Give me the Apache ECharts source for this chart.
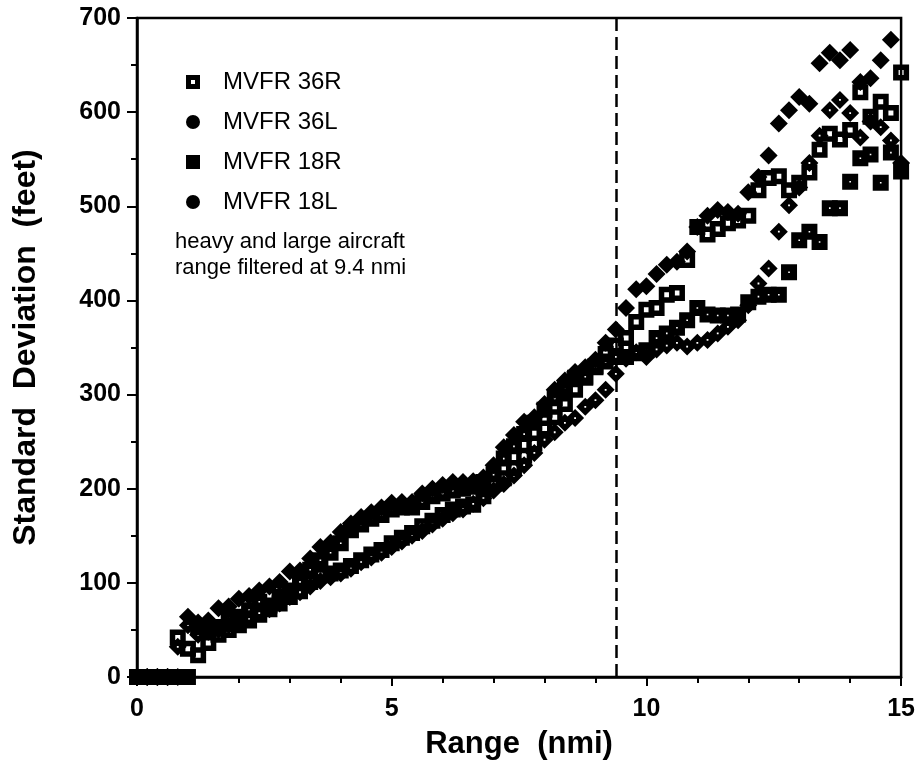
<!DOCTYPE html>
<html>
<head>
<meta charset="utf-8">
<script src="https://cdn.jsdelivr.net/npm/echarts@6/dist/echarts.min.js"></script>
<style>
html,body{margin:0;padding:0;background:#fff;}
#chart{width:918px;height:768px;}
</style>
</head>
<body>
<div id="chart"></div>
<script>
// Range bins (nmi)
var rangeNmi = [0,0.2,0.4,0.6,0.8,1.0,1.2,1.4,1.6,1.8,2.0,2.2,2.4,2.6,2.8,3.0,3.2,3.4,3.6,3.8,
  4.0,4.2,4.4,4.6,4.8,5.0,5.2,5.4,5.6,5.8,6.0,6.2,6.4,6.6,6.8,7.0,7.2,7.4,7.6,7.8,
  8.0,8.2,8.4,8.6,8.8,9.0,9.2,9.4,9.6,9.8,10.0,10.2,10.4,10.6,10.8,11.0,11.2,11.4,11.6,11.8,
  12.0,12.2,12.4,12.6,12.8,13.0,13.2,13.4,13.6,13.8,14.0,14.2,14.4,14.6,14.8,15.0];

// Standard deviation (feet)
var mvfr36R = [0,0,0,0,42,30,23,36,45,50,55,60,66,72,78,85,91,101,108,110,
  113,118,124,130,135,142,148,153,160,166,172,178,181,183,192,205,211,222,235,248,
  264,276,290,305,318,330,343,352,360,377,390,392,406,408,443,478,470,476,482,485,
  490,517,530,532,517,525,536,560,577,571,581,621,595,611,599,642];
var mvfr36L = [0,0,0,0,32,55,45,48,50,55,58,62,68,72,78,85,90,96,102,106,
  110,115,122,127,132,138,144,150,155,162,168,174,178,184,190,198,205,214,225,238,
  252,260,270,275,287,294,305,322,338,345,340,348,352,355,351,355,358,365,372,379,
  395,418,434,473,501,520,546,575,602,613,599,573,590,584,570,546];
var mvfr18R = [0,0,0,0,0,0,53,50,53,62,64,71,80,76,85,92,101,114,124,132,
  142,156,162,168,172,178,180,180,186,192,195,198,200,202,207,215,232,245,258,270,
  284,296,307,318,319,329,335,340,340,344,347,360,365,371,379,392,385,384,384,385,
  398,404,406,406,430,464,473,462,498,498,526,551,555,525,557,537];
var mvfr18L = [0,0,0,0,0,64,58,60,73,75,83,86,92,96,101,112,113,126,138,143,
  154,163,170,175,180,185,186,186,195,200,204,207,207,208,212,225,244,257,271,276,
  290,305,315,324,329,337,355,369,392,412,415,428,438,441,452,478,490,496,494,492,
  515,531,554,588,602,616,609,652,663,655,666,632,636,655,677,null];

var seriesNames = ['MVFR 36R','MVFR 36L','MVFR 18R','MVFR 18L'];
var filterRange = 9.4;
var xTicks = [0,5,10,15];
var yTicks = [0,100,200,300,400,500,600,700];

function pairs(ys){
  var out = [];
  for (var i = 0; i < rangeNmi.length; i++) {
    if (ys[i] !== null && ys[i] !== undefined) out.push([rangeNmi[i], ys[i]]);
  }
  return out;
}

var symHollowSq = 'path://M0,0H16V16H0Z M5.5,5.5V10.5H10.5V5.5Z';
var symDotSq = 'path://M0,0H16V16H0Z M7.2,7.2V8.8H8.8V7.2Z';
var symDotDia = 'path://M8,0L16,8L8,16L0,8Z M7.2,7.2V8.8H8.8V7.2Z';
var symDia = 'path://M8,0L16,8L8,16L0,8Z';

var FONT = '"Liberation Sans", Arial, Helvetica, sans-serif';

var chart = echarts.init(document.getElementById('chart'), null, {renderer:'canvas'});
var option = {
  animation: false,
  backgroundColor: '#fff',
  grid: {left:137, right:15, top:18, bottom:91, show:true, borderColor:'#000', borderWidth:2.5, backgroundColor:'transparent'},
  legend: {
    orient: 'vertical',
    left: 181, top: 65,
    itemWidth: 14, itemHeight: 14, itemGap: 16,
    textStyle: {fontFamily: FONT, fontSize: 24, color:'#000', padding:[0,0,0,18]},
    data: [
      {name: seriesNames[0], icon: 'path://M0,0H14V14H0Z M5,5V9H9V5Z'},
      {name: seriesNames[1], icon: 'circle'},
      {name: seriesNames[2], icon: 'rect'},
      {name: seriesNames[3], icon: 'circle'}
    ]
  },
  graphic: [
    {type:'text', left:175, top:231, style:{text:'heavy and large aircraft', font:'22px '+FONT, fill:'#000'}},
    {type:'text', left:175, top:257, style:{text:'range filtered at 9.4 nmi', font:'22px '+FONT, fill:'#000'}}
  ],
  xAxis: {
    type: 'value', min: 0, max: 15, interval: 5,
    name: 'Range  (nmi)', nameLocation: 'middle', nameGap: 52,
    nameTextStyle: {fontFamily: FONT, fontWeight:'bold', fontSize: 31, color:'#000'},
    axisLine: {show:true, onZero:false, lineStyle:{color:'#000', width:2.5}},
    axisTick: {show:true, inside:false, length:9, lineStyle:{color:'#000', width:2}},
    minorTick: {show:true, splitNumber:5, length:6, lineStyle:{color:'#000', width:2}},
    splitLine: {show:false},
    axisLabel: {margin: 20, fontFamily: FONT, fontWeight:'bold', fontSize: 25, color:'#000',
      formatter: function(v){ return xTicks.indexOf(v) >= 0 ? String(v) : ''; }}
  },
  yAxis: {
    type: 'value', min: 0, max: 700, interval: 100,
    name: 'Standard  Deviation  (feet)', nameLocation: 'middle', nameGap: 95,
    nameTextStyle: {fontFamily: FONT, fontWeight:'bold', fontSize: 32, color:'#000'},
    axisLine: {show:true, onZero:false, lineStyle:{color:'#000', width:2.5}},
    axisTick: {show:true, inside:false, length:10, lineStyle:{color:'#000', width:2}},
    minorTick: {show:true, splitNumber:2, length:6, lineStyle:{color:'#000', width:2}},
    splitLine: {show:false},
    axisLabel: {margin: 16, fontFamily: FONT, fontWeight:'bold', fontSize: 25, color:'#000',
      formatter: function(v){ return yTicks.indexOf(v) >= 0 ? String(v) : ''; }}
  },
  series: [
    {name: seriesNames[3], type:'scatter', data: pairs(mvfr18L), symbol: symDia, symbolSize: 18,
      itemStyle:{color:'#000', opacity:1}, z: 2,
      markLine: {silent:true, symbol:['none','none'], label:{show:false},
        lineStyle:{color:'#000', type:[13,6], width:2.5, opacity:1},
        data:[{xAxis: filterRange}]}},
    {name: seriesNames[1], type:'scatter', data: pairs(mvfr36L), symbol: symDotDia, symbolSize: 18,
      itemStyle:{color:'#000', opacity:1}, z: 3},
    {name: seriesNames[2], type:'scatter', data: pairs(mvfr18R), symbol: symDotSq, symbolSize: 16,
      itemStyle:{color:'#000', opacity:1}, z: 4},
    {name: seriesNames[0], type:'scatter', data: pairs(mvfr36R), symbol: symHollowSq, symbolSize: 16,
      itemStyle:{color:'#000', opacity:1}, z: 5}
  ]
};
chart.setOption(option);
</script>
</body>
</html>
